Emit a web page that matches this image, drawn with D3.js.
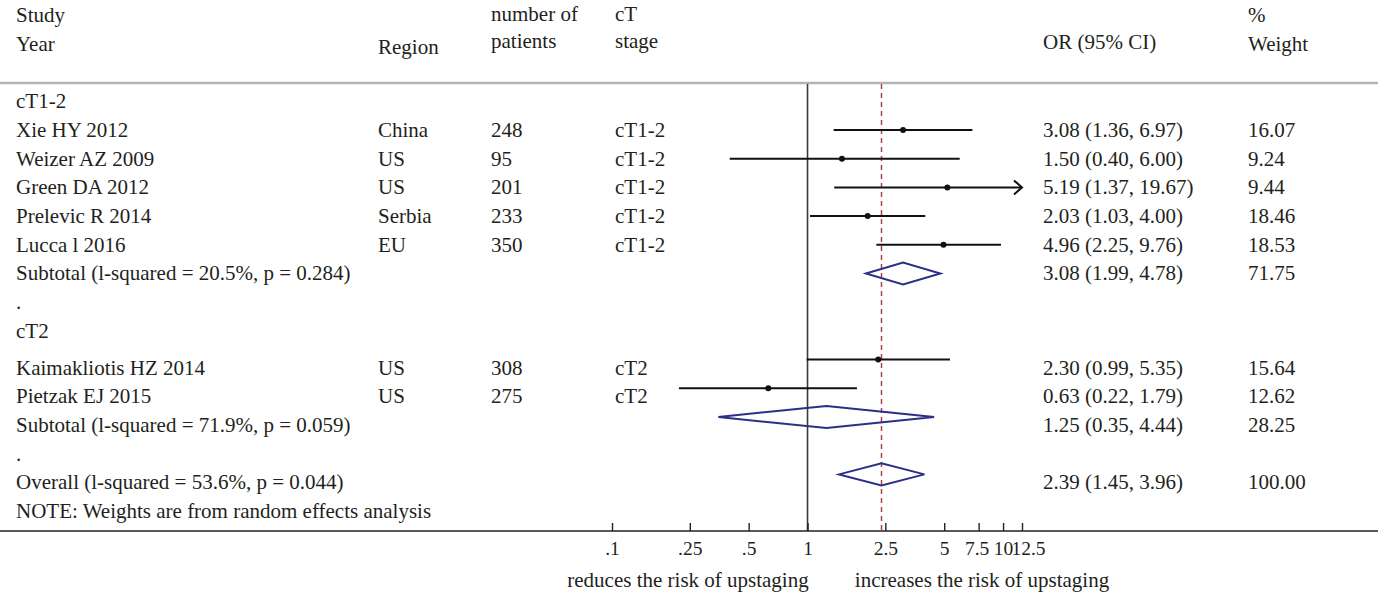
<!DOCTYPE html>
<html>
<head>
<meta charset="utf-8">
<script src="https://cdn.jsdelivr.net/npm/d3@7"></script>
<style>
  html, body { margin: 0; padding: 0; background: #fff; }
  svg { display: block; }
  text { font-family: "Liberation Serif", "Times New Roman", serif; fill: #231f20; }
</style>
</head>
<body>
<svg id="chart" width="1383" height="593"></svg>
<script>
// ---- study-level data ----
const studies   = ["Xie HY 2012", "Weizer AZ 2009", "Green DA 2012", "Prelevic R 2014", "Lucca l 2016",
                   "Kaimakliotis HZ 2014", "Pietzak EJ 2015"];
const regions   = ["China", "US", "US", "Serbia", "EU", "US", "US"];
const patients  = [248, 95, 201, 233, 350, 308, 275];
const stages    = ["cT1-2", "cT1-2", "cT1-2", "cT1-2", "cT1-2", "cT2", "cT2"];
const orValues  = [3.08, 1.50, 5.19, 2.03, 4.96, 2.30, 0.63];
const ciLower   = [1.36, 0.40, 1.37, 1.03, 2.25, 0.99, 0.22];
const ciUpper   = [6.97, 6.00, 19.67, 4.00, 9.76, 5.35, 1.79];
const weights   = ["16.07", "9.24", "9.44", "18.46", "18.53", "15.64", "12.62"];

// ---- pooled estimates ----
const pooledLabels  = ["Subtotal (l-squared = 20.5%, p = 0.284)",
                       "Subtotal (l-squared = 71.9%, p = 0.059)",
                       "Overall (l-squared = 53.6%, p = 0.044)"];
const pooledOR      = [3.08, 1.25, 2.39];
const pooledLower   = [1.99, 0.35, 1.45];
const pooledUpper   = [4.78, 4.44, 3.96];
const pooledWeights = ["71.75", "28.25", "100.00"];

// ---- axis ----
const tickValues = [0.1, 0.25, 0.5, 1, 2.5, 5, 7.5, 10, 12.5];
const tickLabels = [".1", ".25", ".5", "1", "2.5", "5", "7.5", "10", "12.5"];

// row layout: each entry is one line of the table
const rows = [
  {type: "group", label: "cT1-2"},
  {type: "study", i: 0}, {type: "study", i: 1}, {type: "study", i: 2},
  {type: "study", i: 3}, {type: "study", i: 4},
  {type: "pooled", j: 0},
  {type: "gap", label: "."},
  {type: "group", label: "cT2"},
  {type: "study", i: 5}, {type: "study", i: 6},
  {type: "pooled", j: 1},
  {type: "gap", label: "."},
  {type: "pooled", j: 2},
  {type: "note", label: "NOTE: Weights are from random effects analysis"}
];

const svg = d3.select("#chart");
const FS = 21;
const TICK_FS = 19.5;

const col = {study: 16, region: 378, patients: 491, stage: 615, or: 1043, weight: 1248};

const x = d3.scaleLog().domain([0.1, 12.5]).range([612, 1022]);
const markY = d3.scaleLinear().domain([0, 1]).range([101.3, 130]);   // row index -> mark centre
const textY = (k) => markY(k) + (k >= 9 ? 8 : 0);                     // text centre of row k

const topRule = 83, axisY = 531;

// header
const header = svg.append("g").attr("font-size", FS);
function hText(t, xx, yy) {
  header.append("text").attr("x", xx).attr("y", yy).attr("dy", "0.33em").text(t);
}
hText("Study", col.study, 15);
hText("Year", col.study, 44);
hText("Region", col.region, 47);
hText("number of", col.patients, 14);
hText("patients", col.patients, 41);
hText("cT", col.stage, 14);
hText("stage", col.stage, 41);
hText("OR (95% CI)", col.or, 42);
hText("%", col.weight, 15);
hText("Weight", col.weight, 44);

// separator under the header
svg.append("line").attr("x1", 0).attr("x2", 1378).attr("y1", topRule).attr("y2", topRule)
  .attr("stroke", "#b4b4b4").attr("stroke-width", 2.5);

// reference lines: null effect and overall estimate
svg.append("line").attr("x1", x(1)).attr("x2", x(1)).attr("y1", topRule + 1).attr("y2", axisY)
  .attr("stroke", "#3a3a3a").attr("stroke-width", 1.6);
svg.append("line").attr("x1", x(pooledOR[2])).attr("x2", x(pooledOR[2])).attr("y1", topRule + 1).attr("y2", axisY)
  .attr("stroke", "#b0414a").attr("stroke-width", 1.5).attr("stroke-dasharray", "5,4");

// table text
const body = svg.append("g").attr("font-size", FS);
function bText(t, xx, k) {
  body.append("text").attr("x", xx).attr("y", textY(k)).attr("dy", "0.33em").text(t);
}

const marks = svg.append("g");
const [xMin, xMax] = x.domain();

rows.forEach((r, k) => {
  const ym = markY(k);
  if (r.type === "group" || r.type === "gap" || r.type === "note") {
    bText(r.label, col.study, k);
  } else if (r.type === "study") {
    const i = r.i;
    bText(studies[i], col.study, k);
    bText(regions[i], col.region, k);
    bText(String(patients[i]), col.patients, k);
    bText(stages[i], col.stage, k);
    bText(`${orValues[i].toFixed(2)} (${ciLower[i].toFixed(2)}, ${ciUpper[i].toFixed(2)})`, col.or, k);
    bText(weights[i], col.weight, k);

    const lo = Math.max(ciLower[i], xMin), hi = Math.min(ciUpper[i], xMax);
    marks.append("line").attr("x1", x(lo)).attr("x2", x(hi)).attr("y1", ym).attr("y2", ym)
      .attr("stroke", "#111").attr("stroke-width", 2);
    if (ciUpper[i] > xMax) {
      const tip = x(xMax);
      marks.append("path")
        .attr("d", `M${tip - 8},${ym - 7} L${tip},${ym} L${tip - 8},${ym + 7}`)
        .attr("fill", "none").attr("stroke", "#111").attr("stroke-width", 2);
    }
    marks.append("circle").attr("cx", x(orValues[i])).attr("cy", ym).attr("r", 3).attr("fill", "#111");
  } else if (r.type === "pooled") {
    const j = r.j;
    bText(pooledLabels[j], col.study, k);
    bText(`${pooledOR[j].toFixed(2)} (${pooledLower[j].toFixed(2)}, ${pooledUpper[j].toFixed(2)})`, col.or, k);
    bText(pooledWeights[j], col.weight, k);
    const h = 11;
    const pts = [[x(pooledLower[j]), ym], [x(pooledOR[j]), ym - h],
                 [x(pooledUpper[j]), ym], [x(pooledOR[j]), ym + h]];
    marks.append("polygon").attr("points", pts.map(p => p.join(",")).join(" "))
      .attr("fill", "none").attr("stroke", "#2c2f87").attr("stroke-width", 2);
  }
});

// bottom rule / x axis
svg.append("line").attr("x1", 0).attr("x2", 1378).attr("y1", axisY).attr("y2", axisY)
  .attr("stroke", "#222").attr("stroke-width", 1.6);

const axis = d3.axisBottom(x)
  .tickValues(tickValues)
  .tickFormat((d, i) => tickLabels[i])
  .tickSizeInner(-8)
  .tickSizeOuter(0)
  .tickPadding(10);

const gAxis = svg.append("g").attr("transform", `translate(0,${axisY})`).call(axis);
gAxis.select(".domain").remove();
gAxis.selectAll(".tick line").attr("stroke", "#222").attr("stroke-width", 1.4);
gAxis.selectAll(".tick text")
  .attr("font-family", "Liberation Serif, Times New Roman, serif")
  .attr("font-size", TICK_FS).attr("fill", "#231f20")
  // the last three labels sit close together; spread them slightly
  .attr("dx", d => d === 7.5 ? -2 : d === 12.5 ? 6 : 0);

// direction captions
svg.append("text").attr("x", 688).attr("y", 580).attr("dy", "0.33em").attr("text-anchor", "middle")
  .attr("font-size", FS).text("reduces the risk of upstaging");
svg.append("text").attr("x", 982).attr("y", 580).attr("dy", "0.33em").attr("text-anchor", "middle")
  .attr("font-size", FS).text("increases the risk of upstaging");
</script>
</body>
</html>
